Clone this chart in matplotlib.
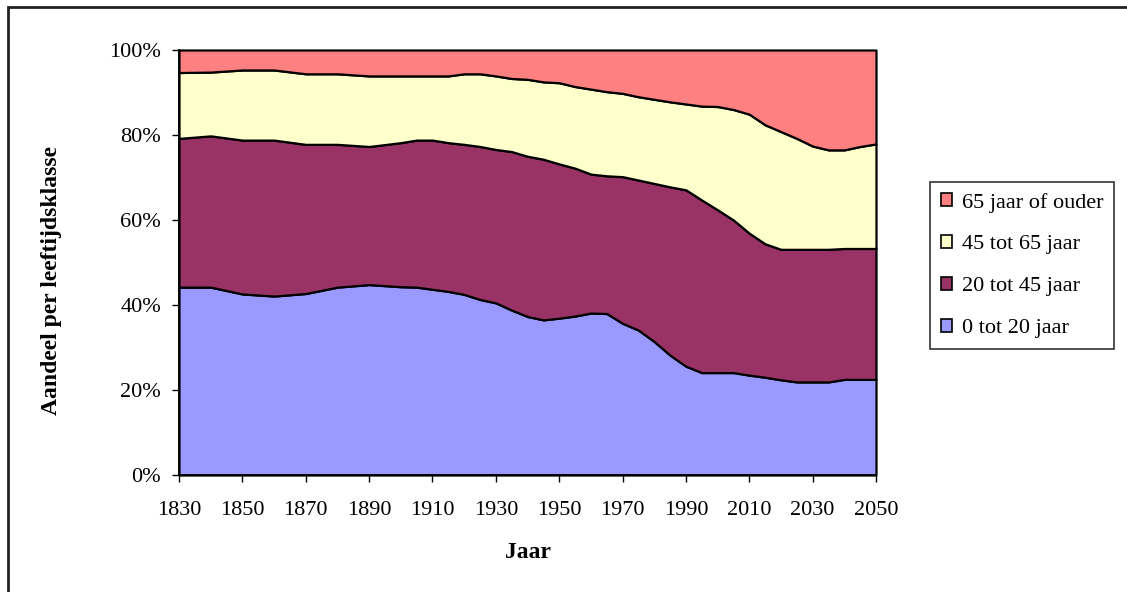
import matplotlib
matplotlib.use("Agg")
import matplotlib.pyplot as plt
from matplotlib.patches import Patch, Rectangle
from matplotlib.ticker import FuncFormatter

years = [1830, 1840, 1850, 1860, 1870, 1880, 1890, 1900, 1905, 1910, 1915,
         1920, 1925, 1930, 1935, 1940, 1945, 1950, 1955, 1960, 1965, 1970,
         1975, 1980, 1985, 1990, 1995, 2000, 2005, 2010, 2015, 2020, 2025,
         2030, 2035, 2040, 2045, 2050]

age_0_20 = [44.2, 44.2, 42.6, 42.1, 42.7, 44.2, 44.8, 44.3, 44.2, 43.7, 43.2,
            42.5, 41.3, 40.5, 38.8, 37.3, 36.5, 36.9, 37.4, 38.1, 38.0, 35.7,
            34.1, 31.4, 28.2, 25.6, 24.1, 24.1, 24.1, 23.5, 23.0, 22.4, 21.9,
            21.9, 21.9, 22.5, 22.5, 22.5]
age_20_45 = [35.0, 35.6, 36.2, 36.7, 35.1, 33.6, 32.5, 33.9, 34.6, 35.1, 35.0,
             35.3, 36.0, 36.1, 37.3, 37.7, 37.8, 36.3, 34.8, 32.7, 32.4, 34.5,
             35.3, 37.2, 39.6, 41.5, 40.6, 38.3, 35.9, 33.4, 31.4, 30.7, 31.2,
             31.2, 31.2, 30.8, 30.8, 30.8]
age_45_65 = [15.5, 15.0, 16.5, 16.5, 16.6, 16.6, 16.6, 15.7, 15.1, 15.1, 15.7,
             16.6, 17.1, 17.3, 17.2, 18.1, 18.2, 19.1, 19.2, 20.0, 19.8, 19.6,
             19.6, 19.8, 20.0, 20.2, 22.1, 24.3, 26.0, 28.0, 28.0, 27.7, 26.1,
             24.3, 23.4, 23.2, 24.0, 24.6]
age_65_plus = [5.3, 5.2, 4.7, 4.7, 5.6, 5.6, 6.1, 6.1, 6.1, 6.1, 6.1,
               5.6, 5.6, 6.1, 6.7, 6.9, 7.5, 7.7, 8.6, 9.2, 9.8, 10.2,
               11.0, 11.6, 12.2, 12.7, 13.2, 13.3, 14.0, 15.1, 17.6, 19.2, 20.8,
               22.6, 23.5, 23.5, 22.7, 22.1]

labels = ["0 tot 20 jaar", "20 tot 45 jaar", "45 tot 65 jaar", "65 jaar of ouder"]
colors = ["#9999FF", "#993366", "#FFFFCC", "#FF8080"]
x_ticks = list(range(1830, 2051, 20))
y_ticks = [0, 20, 40, 60, 80, 100]

plt.rcParams['font.family'] = ['Liberation Serif', 'DejaVu Serif']

W, H = 1127, 592
fig = plt.figure(figsize=(W / 100, H / 100), dpi=100)
ax = fig.add_axes([179 / W, 1 - 475 / H, (876 - 179) / W, (475 - 50) / H])

polys = ax.stackplot(years, age_0_20, age_20_45, age_45_65, age_65_plus,
                     colors=colors, edgecolor="black", linewidth=1.6)
for p in polys:
    p.set_clip_on(False)

ax.set_xlim(1830, 2050)
ax.set_ylim(0, 100)
ax.set_xticks(x_ticks)
ax.set_yticks(y_ticks)
ax.yaxis.set_major_formatter(FuncFormatter(lambda v, pos: f"{int(v)}%"))
ax.tick_params(direction="out", length=5, width=1, labelsize=16,
               colors="black")
ax.tick_params(axis="y", pad=8)
ax.tick_params(axis="x", pad=14)
for s in ["top", "right"]:
    ax.spines[s].set_visible(False)
for s in ["left", "bottom"]:
    ax.spines[s].set_linewidth(1.3)
    ax.spines[s].set_zorder(5)

fig.text(528 / W, 1 - 553 / H, "Jaar", ha="center", va="center",
         fontsize=17, fontweight="bold")
fig.text(52 / W, 1 - 280 / H, "Aandeel per leeftijdsklasse", ha="center",
         va="center", rotation=90, fontsize=17, fontweight="bold")

handles = [Patch(facecolor=c, edgecolor="black", linewidth=1.2, label=l)
           for c, l in zip(colors, labels)][::-1]
leg = fig.legend(handles=handles, loc="upper left",
                 bbox_to_anchor=(930 / W, 1 - 182 / H), fontsize=16,
                 frameon=True, fancybox=False, edgecolor="black",
                 handlelength=0.5, handleheight=0.5, handletextpad=0.45,
                 borderpad=0.48, labelspacing=1.02, borderaxespad=0)
leg.get_frame().set_linewidth(1.2)

fig.patches.append(Rectangle((8 / W, -0.05), 1.2, 1.05 - 7 / H,
                             transform=fig.transFigure, fill=False,
                             edgecolor="#222222", linewidth=2))

fig.savefig("out.png", dpi=100)
